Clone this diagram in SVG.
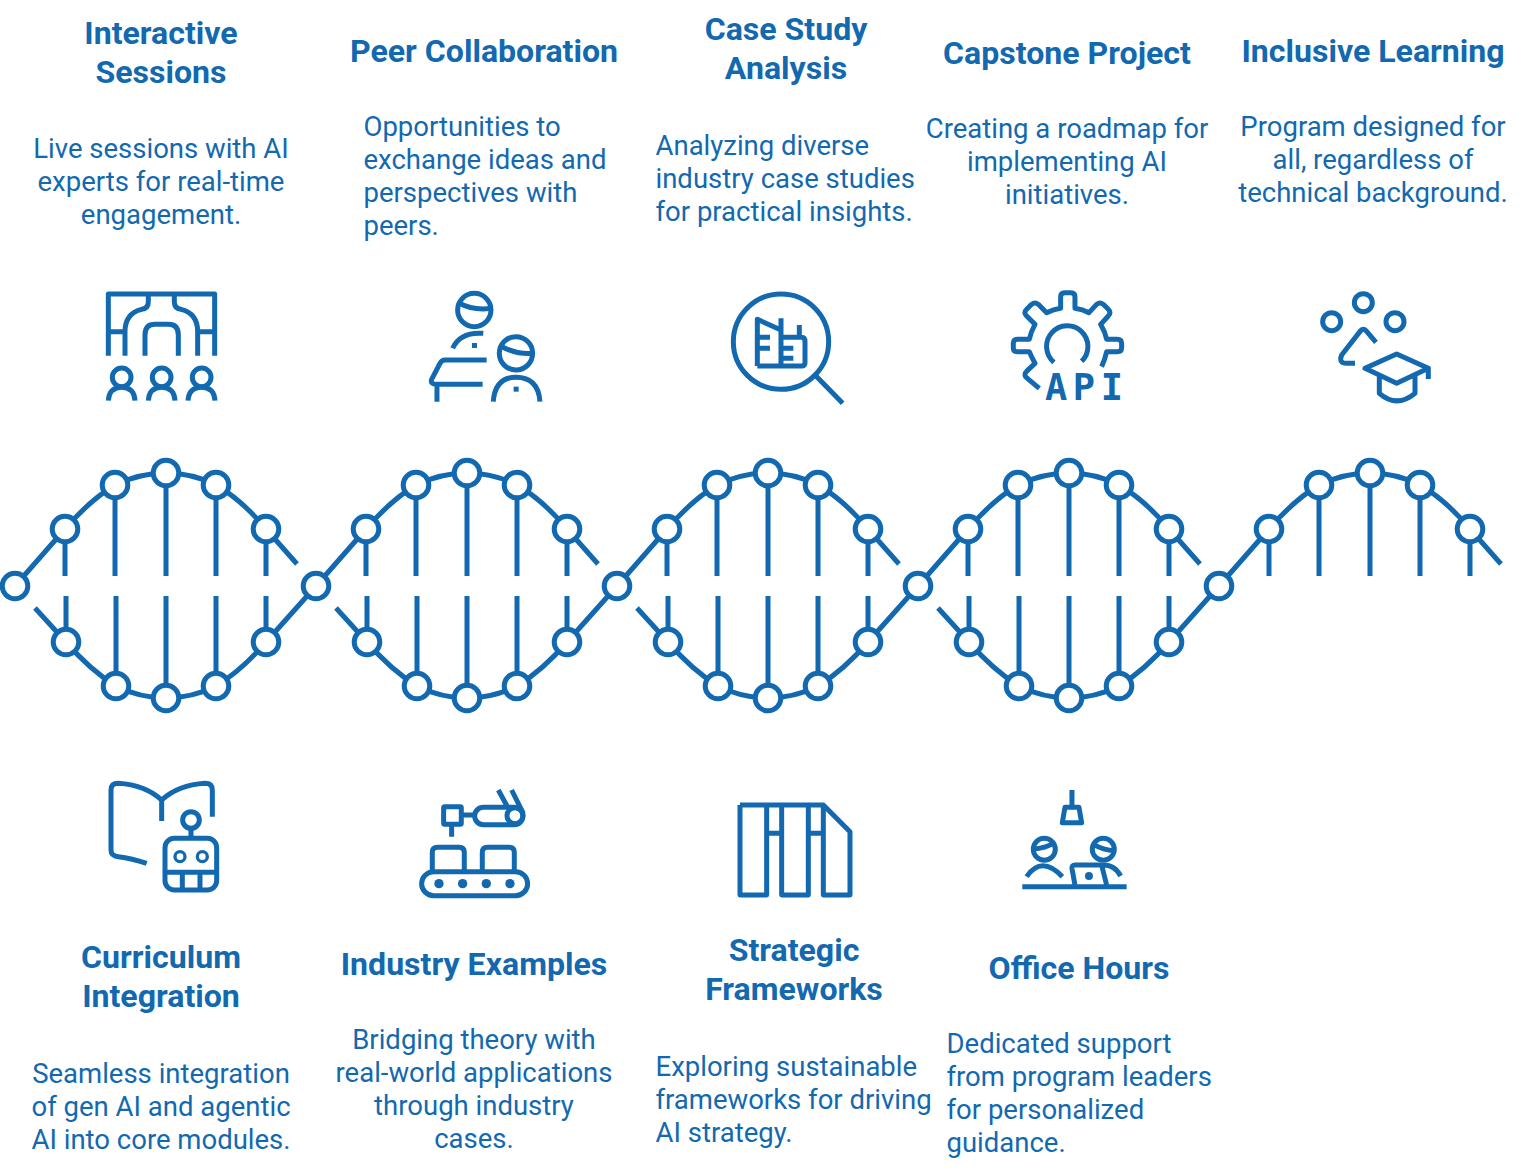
<svg xmlns="http://www.w3.org/2000/svg" xmlns:xlink="http://www.w3.org/1999/xlink" width="1525" height="1176" viewBox="0 0 1525 1176">
<style>
text{font-family:Roboto,"Liberation Sans",sans-serif;fill:#1269b0}
.t{font-size:32.1px;font-weight:700;text-anchor:middle}
.b{font-size:27.5px}
.c{text-anchor:middle}
.i,.d{fill:none;stroke:#1269b0;stroke-linejoin:round}
.i{stroke-width:15}
.d{stroke-width:5}
.f{fill:#1269b0;stroke:none}
.n{fill:#fff;stroke:#1269b0;stroke-width:5}
</style>
<defs>
<g id="top" class="d">
<path d="M15 586L65 529Q90 500 115 485Q140 473 166 473Q192 473 216 485Q242 500 266 529L297 564"/>
<path d="M65 529V576M115 485V576M166 473V576M216 485V576M266 529V576"/>
<circle class="n" cx="65" cy="529" r="12.800"/><circle class="n" cx="115" cy="485" r="12.800"/><circle class="n" cx="166" cy="473" r="12.800"/><circle class="n" cx="216" cy="485" r="12.800"/><circle class="n" cx="266" cy="529" r="12.800"/>
</g>
<g id="bot" class="d">
<path d="M35 608L66 642Q90 670 116 686Q140 698 166 698Q192 698 216 686Q242 670 266 642L316 586"/>
<path d="M66 642V596M116 686V596M166 698V596M216 686V596M266 642V596"/>
<circle class="n" cx="66" cy="642" r="12.800"/><circle class="n" cx="116" cy="686" r="12.800"/><circle class="n" cx="166" cy="698" r="12.800"/><circle class="n" cx="216" cy="686" r="12.800"/><circle class="n" cx="266" cy="642" r="12.800"/>
</g>
<circle id="hub" class="n" r="12.800" cy="586"/>
</defs>
<g id="connectors">
<use xlink:href="#top"/><use xlink:href="#bot"/>
<use xlink:href="#top" x="301"/><use xlink:href="#bot" x="301"/>
<use xlink:href="#top" x="602"/><use xlink:href="#bot" x="602"/>
<use xlink:href="#top" x="903"/><use xlink:href="#bot" x="903"/>
<use xlink:href="#top" x="1204"/>
<use xlink:href="#hub" x="15"/><use xlink:href="#hub" x="316"/><use xlink:href="#hub" x="617"/><use xlink:href="#hub" x="918"/><use xlink:href="#hub" x="1219"/>
</g>
<g id="interactive-sessions">
<text class="t" x="161" y="44">Interactive</text><text class="t" x="161" y="83">Sessions</text>
<text class="b c" x="161" y="158">Live sessions with AI</text><text class="b c" x="161" y="191">experts for real-time</text><text class="b c" x="161" y="224">engagement.</text>
<g class="i" transform="translate(90 280) scale(.3333)">
<path d="M55 227V42H374V227M175 42V65Q175 85 155 88Q105 100 105 155V227M253 42V65Q253 85 273 88Q323 100 323 155V227M55 155H105M323 155H374M165 227V165Q165 133 195 133H235Q265 133 265 165V227"/>
<circle cx="95" cy="292" r="28"/><circle cx="215" cy="292" r="28"/><circle cx="335" cy="292" r="28"/>
<path d="M55 362Q58 322 95 322Q132 322 135 362M175 362Q178 322 215 322Q252 322 255 362M294 362Q297 322 335 322Q372 322 375 362"/>
</g>
</g>
<g id="peer-collaboration">
<text class="t" x="484" y="62">Peer Collaboration</text>
<text class="b" x="363.500" y="136">Opportunities to</text><text class="b" x="363.500" y="169">exchange ideas and</text><text class="b" x="363.500" y="202">perspectives with</text><text class="b" x="363.500" y="235">peers.</text>
<g class="i" transform="translate(90 280) scale(.3333)">
<circle cx="1153" cy="90" r="50"/><path d="M1108 70Q1150 92 1203 85M1088 205Q1110 155 1180 160M1190 240H1065Q1055 240 1050 250L1025 298Q1020 313 1040 313H1178M1041 313V365"/>
<circle cx="1278" cy="220" r="50"/><path d="M1232 198Q1280 225 1332 220M1210 365Q1215 292 1278 292Q1345 292 1350 365"/>
<rect class="f" x="1146" y="189" width="15" height="15"/><rect class="f" x="1271" y="320" width="15" height="15"/>
</g>
</g>
<g id="case-study-analysis">
<text class="t" x="786" y="40">Case Study</text><text class="t" x="786" y="79">Analysis</text>
<text class="b" x="655.500" y="155">Analyzing diverse</text><text class="b" x="655.500" y="188">industry case studies</text><text class="b" x="655.500" y="221">for practical insights.</text>
<g class="i" transform="translate(720 280) scale(.3333)">
<circle cx="183" cy="185" r="143"/><path d="M288 288L368 370M183 115V258M112 258V118L183 150M112 258H245Q255 258 255 248V185Q255 172 245 172H183M238 135V172M112 172H150M112 205H150M183 205H220M183 235H220"/>
</g>
</g>
<g id="capstone-project">
<text class="t" x="1067" y="64">Capstone Project</text>
<text class="b c" x="1067" y="138">Creating a roadmap for</text><text class="b c" x="1067" y="171">implementing AI</text><text class="b c" x="1067" y="204">initiatives.</text>
<g class="i" transform="translate(720 280) scale(.3333)">
<path d="M958 325L922 295Q908 285 922 272L945 250Q935 232 928 215H892Q880 215 880 203V190Q880 178 892 178H928Q933 155 945 133L920 108Q910 98 920 88L935 73Q945 65 955 73L980 98Q1000 88 1022 85V50Q1022 38 1034 38H1053Q1065 38 1065 50V85Q1088 88 1107 98L1130 73Q1140 65 1150 73L1165 88Q1175 98 1165 108L1142 133Q1155 155 1160 178H1192Q1205 178 1205 190V203Q1205 215 1192 215H1160Q1155 238 1145 260M1002 247A62 62 0 1 1 1085 244"/>
</g>
<text x="1045" y="400" font-size="37" font-weight="700" textLength="78" lengthAdjust="spacing" style="font-family:'DejaVu Sans Mono',monospace">API</text>
</g>
<g id="inclusive-learning">
<text class="t" x="1373" y="62">Inclusive Learning</text>
<text class="b c" x="1373" y="136">Program designed for</text><text class="b c" x="1373" y="169">all, regardless of</text><text class="b c" x="1373" y="202">technical background.</text>
<g class="i" transform="translate(1300 280) scale(.3333)">
<circle cx="190" cy="68" r="27"/><circle cx="95" cy="125" r="27"/><circle cx="285" cy="125" r="27"/>
<path d="M228 187L198 152Q190 143 182 152L125 225Q115 250 140 250H165M195 265L290 222L385 265L290 310ZM385 265V297M238 285V340Q290 385 345 340V285"/>
</g>
</g>
<g id="curriculum-integration">
<text class="t" x="161" y="968">Curriculum</text><text class="t" x="161" y="1007">Integration</text>
<text class="b c" x="161" y="1083">Seamless integration</text><text class="b c" x="161" y="1116">of gen AI and agentic</text><text class="b c" x="161" y="1149">AI into core modules.</text>
<g class="i" transform="translate(95 775) scale(.3333)">
<path d="M155 265Q110 250 70 245Q48 243 48 225V45Q48 25 70 25Q150 30 200 75Q250 30 330 25Q352 25 352 45V125M200 75V138M288 160V190M210 292H365M262 292V345M315 292V345"/>
<circle cx="288" cy="135" r="25"/><rect x="210" y="190" width="155" height="155" rx="28"/>
<circle cx="255" cy="245" r="15" stroke-width="10"/><circle cx="322" cy="245" r="15" stroke-width="10"/>
</g>
</g>
<g id="industry-examples">
<text class="t" x="474" y="975">Industry Examples</text>
<text class="b c" x="474" y="1049">Bridging theory with</text><text class="b c" x="474" y="1082">real-world applications</text><text class="b c" x="474" y="1115">through industry</text><text class="b c" x="474" y="1148">cases.</text>
<g class="i" transform="translate(95 775) scale(.3333)">
<rect x="1046" y="95" width="53" height="53" rx="3"/>
<path d="M1070 148V185M1099 120H1135M1240 97H1165A26 26 0 0 0 1165 149H1258A26 26 0 0 0 1258 97H1240M1210 45L1240 100M1250 45L1285 115M1012 285V232Q1012 217 1027 217H1093Q1108 217 1108 232V285M1162 285V232Q1162 217 1177 217H1243Q1258 217 1258 232V285"/>
<circle cx="1260" cy="122" r="24"/>
<rect x="980" y="290" width="318" height="72" rx="36"/>
<circle class="f" cx="1032" cy="326" r="14"/><circle class="f" cx="1103" cy="326" r="14"/><circle class="f" cx="1174" cy="326" r="14"/><circle class="f" cx="1245" cy="326" r="14"/>
</g>
</g>
<g id="strategic-frameworks">
<text class="t" x="794" y="961">Strategic</text><text class="t" x="794" y="1000">Frameworks</text>
<text class="b" x="655.500" y="1076">Exploring sustainable</text><text class="b" x="655.500" y="1109">frameworks for driving</text><text class="b" x="655.500" y="1142">AI strategy.</text>
<g class="i" transform="translate(725 780) scale(.3333)">
<path d="M45 75H295L375 155V345H295V75M45 75V345H125V75M170 75V345H250V75M125 160H170M250 160H295"/>
</g>
</g>
<g id="office-hours">
<text class="t" x="1079" y="979">Office Hours</text>
<text class="b" x="946.500" y="1053">Dedicated support</text><text class="b" x="946.500" y="1086">from program leaders</text><text class="b" x="946.500" y="1119">for personalized</text><text class="b" x="946.500" y="1152">guidance.</text>
<g class="i" transform="translate(725 780) scale(.3333)">
<path d="M1041 30V80M1020 82H1062L1070 128H1012ZM925 207Q960 205 990 188M905 290Q950 225 1012 290M1105 193Q1135 210 1170 212M1050 315L1041 265Q1040 255 1050 255H1130L1145 315M1135 255Q1170 255 1187 288"/>
<circle cx="958" cy="208" r="33"/><circle cx="1135" cy="208" r="33"/>
<path d="M892 320H1205" stroke-width="15"/><circle class="f" cx="1092" cy="288" r="12"/>
</g>
</g>
</svg>
